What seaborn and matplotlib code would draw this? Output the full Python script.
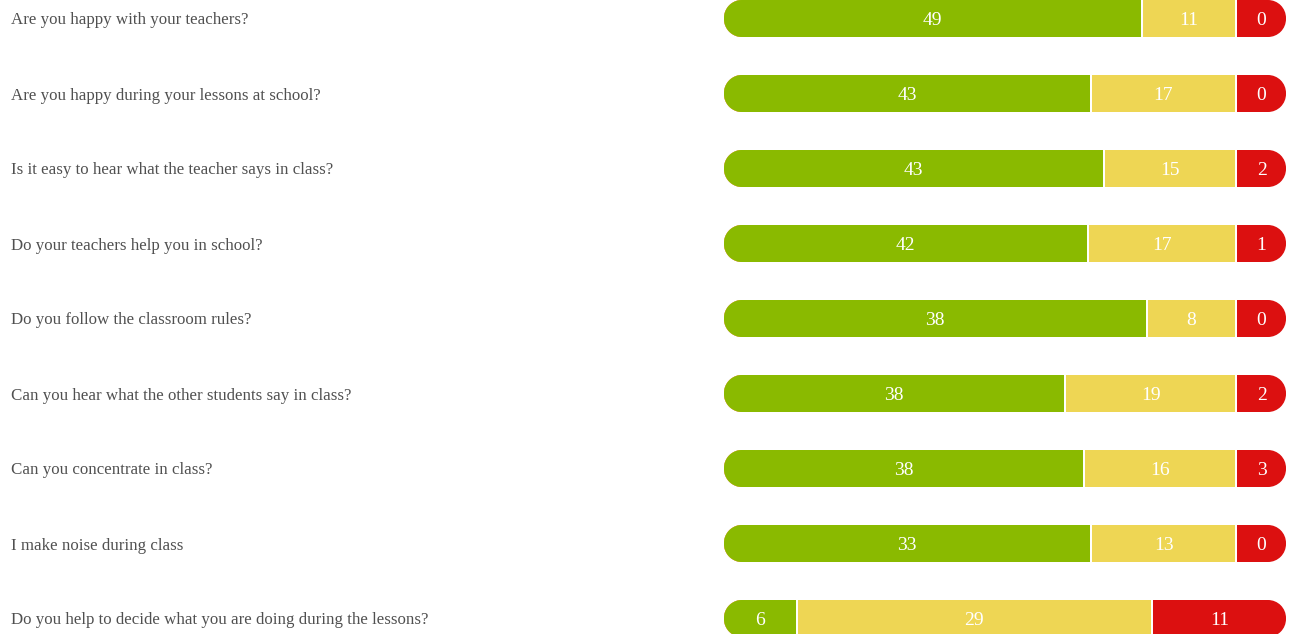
import numpy as np
import matplotlib
matplotlib.use('Agg')
import matplotlib.pyplot as plt
from matplotlib.path import Path
from matplotlib.transforms import Affine2D
import seaborn as sns

# 数据
questions = [
    'Are you happy with your teachers?',
    'Are you happy during your lessons at school?',
    'Is it easy to hear what the teacher says in class?',
    'Do your teachers help you in school?',
    'Do you follow the classroom rules?',
    'Can you hear what the other students say in class?',
    'Can you concentrate in class?',
    'I make noise during class',
    'Do you help to decide what you are doing during the lessons?',
]
positive = [49, 43, 43, 42, 38, 38, 38, 33, 6]
neutral = [11, 17, 15, 17, 8, 19, 16, 13, 29]
negative = [0, 0, 2, 1, 0, 2, 3, 0, 11]

green = '#8aba00'
yellow = '#eed654'
red = '#dc1010'

sns.set_style('white')
plt.rcParams['font.family'] = ['Liberation Serif', 'DejaVu Serif']

# 每段的显示宽度：太小的段给一个最小宽度，其余按比例分配
min_frac = 0.09
vals = np.array([positive, neutral, negative], dtype=float).T
widths = []
for row in vals:
    w = row / row.sum()
    small = w < min_frac
    rest = w[~small].sum()
    w2 = np.where(small, min_frac, w / rest * (1 - min_frac * small.sum()))
    widths.append(w2)
widths = np.array(widths)
cum = np.cumsum(widths, axis=1)

W, H = 1292, 634
fig = plt.figure(figsize=(W / 100, H / 100), dpi=100)
ax = fig.add_axes([723 / W, 0, 564 / W, 1])

bar_h = 39 / 75
lw = 1.44
n = len(questions)
# 叠加画法：先画总长（红），再画绿+黄，最后画绿
sns.barplot(x=cum[:, 2], y=questions, color=red, saturation=1, width=bar_h,
            edgecolor='white', linewidth=lw, errorbar=None, orient='h', ax=ax)
sns.barplot(x=cum[:, 1], y=questions, color=yellow, saturation=1, width=bar_h,
            edgecolor='white', linewidth=lw, errorbar=None, orient='h', ax=ax)
sns.barplot(x=cum[:, 0], y=questions, color=green, saturation=1, width=bar_h,
            edgecolor='white', linewidth=lw, errorbar=None, orient='h', ax=ax)

ax.set_xlim(0, 1)
ax.set_ylim((H - 18.5) / 75, -18.5 / 75)


# 圆角矩形裁剪路径（像素单位，再缩放到数据坐标）
def rounded_rect(x0, L, h, R):
    corners = [((x0 + R, -h / 2 + R), 180, 270), ((x0 + L - R, -h / 2 + R), 270, 360),
               ((x0 + L - R, h / 2 - R), 0, 90), ((x0 + R, h / 2 - R), 90, 180)]
    verts, codes = [], []
    for (cx, cy), t1, t2 in corners:
        arc = Path.arc(t1, t2)
        v = arc.vertices * R + [cx, cy]
        c = list(arc.codes)
        if verts:
            c[0] = Path.LINETO
        verts.extend(v.tolist())
        codes.extend(c)
    verts.append(verts[0])
    codes.append(Path.CLOSEPOLY)
    return Path(verts, codes)


# 两端各缩进 1px，把白色描边裁掉
shape = rounded_rect(1, 562, 37, 18)
for k, p in enumerate(ax.patches):
    i = k % n
    tr = Affine2D().scale(1 / 564, 1 / 75).translate(0, i) + ax.transData
    p.set_clip_path(shape, tr)

# 数值标签
for i in range(n):
    lefts = np.concatenate([[0], cum[i, :2]])
    for j, v in enumerate(vals[i]):
        ax.text(lefts[j] + widths[i, j] / 2, i, f'{int(v)}', color='white',
                ha='center', va='center_baseline', fontsize=14)

# 问题标签
ax.set_xlabel('')
ax.set_ylabel('')
ax.set_xticks([])
ax.tick_params(axis='y', length=0, pad=712 * 0.72, labelsize=12.2, labelcolor='#505050')
for lab in ax.get_yticklabels():
    lab.set_ha('left')
sns.despine(ax=ax, left=True, bottom=True)

fig.savefig('out.png', dpi=100)
